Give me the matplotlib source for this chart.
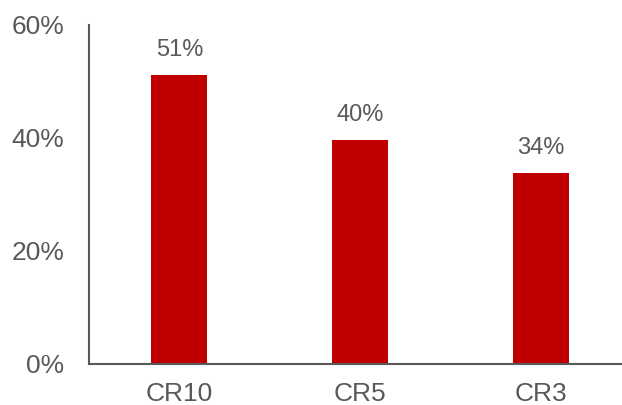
import matplotlib
matplotlib.use('Agg')
import matplotlib.pyplot as plt
from matplotlib.ticker import PercentFormatter

plt.rcParams['font.family'] = ['Liberation Sans', 'DejaVu Sans']

categories = ['CR10', 'CR5', 'CR3']
values = [0.512, 0.396, 0.338]
yticks = [0.0, 0.2, 0.4, 0.6]

bar_color = '#C00000'
text_color = '#595959'

fig = plt.figure(figsize=(6.22, 4.05), dpi=100)
# 右边超出画布，和原图一样被截断
ax = fig.add_axes([89 / 622, 1 - 363.5 / 405, 542 / 622, 338.5 / 405])

x = range(len(categories))
bars = ax.bar(x, values, width=0.31, color=bar_color)
for b, v in zip(bars, values):
    ax.annotate('{:.0%}'.format(v), (b.get_x() + b.get_width() / 2, v),
                xytext=(0, 10), textcoords='offset points',
                ha='center', va='bottom', fontsize=17, color=text_color)

ax.set_xlim(-0.5, 2.5)
ax.set_ylim(0, 0.6)
ax.set_xticks(list(x))
ax.set_xticklabels(categories)
ax.set_yticks(yticks)
ax.yaxis.set_major_formatter(PercentFormatter(1.0, decimals=0))

for side in ('top', 'right'):
    ax.spines[side].set_visible(False)
for side in ('left', 'bottom'):
    ax.spines[side].set_color(text_color)
    ax.spines[side].set_linewidth(1.5)

ax.tick_params(axis='both', length=0, labelsize=19, labelcolor=text_color)
ax.tick_params(axis='y', pad=18)
ax.tick_params(axis='x', pad=13)

fig.savefig('out.png', dpi=100)
